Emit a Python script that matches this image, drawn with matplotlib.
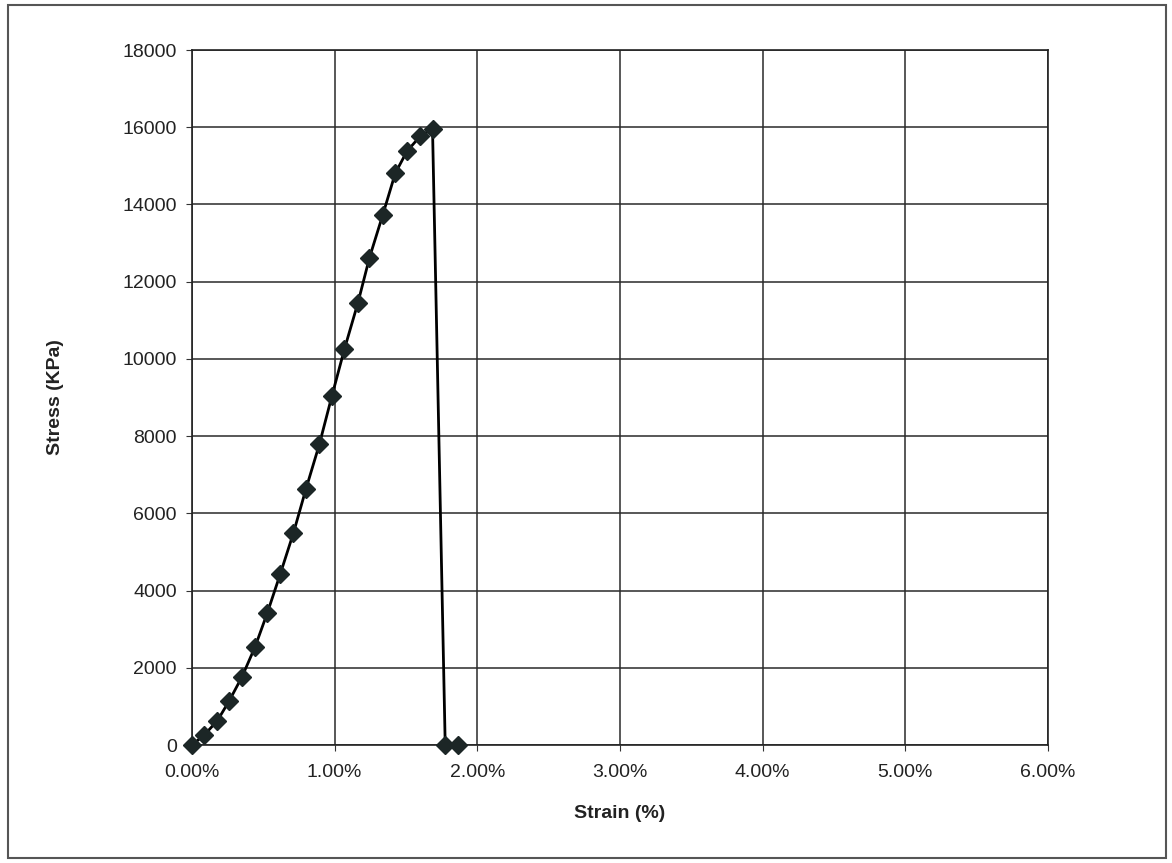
import matplotlib.pyplot as plt
from matplotlib.patches import Rectangle
from matplotlib.ticker import FuncFormatter

# strain in %, stress in kPa
strain = [0.000, 0.086, 0.178, 0.262, 0.351, 0.442, 0.528, 0.618, 0.711, 0.798,
          0.893, 0.980, 1.069, 1.163, 1.244, 1.338, 1.425, 1.507, 1.600, 1.686,
          1.775, 1.865]
stress = [0, 260, 630, 1150, 1770, 2540, 3420, 4420, 5490, 6620,
          7790, 9030, 10260, 11450, 12620, 13740, 14810, 15380, 15770, 15960,
          0, 0]

x_ticks = [0, 1, 2, 3, 4, 5, 6]
y_ticks = list(range(0, 18001, 2000))

plt.rcParams['font.family'] = ['Liberation Sans', 'DejaVu Sans']

fig = plt.figure(figsize=(11.72, 8.63), dpi=100)
ax = fig.add_axes([0.1638, 0.1367, 0.7304, 0.8053])

ax.plot(strain, stress, color='black', linewidth=2,
        marker='D', markersize=9, markerfacecolor='#1c2626',
        markeredgecolor='#1c2626', zorder=3, clip_on=False)

ax.set_xlim(0, 6)
ax.set_ylim(0, 18000)
ax.set_xticks(x_ticks)
ax.set_yticks(y_ticks)
ax.xaxis.set_major_formatter(FuncFormatter(lambda v, p: f"{v:.2f}%"))
ax.grid(True, color='#2a2a2a', linewidth=1.1)
ax.tick_params(axis='both', labelsize=14, length=4, color='#333333',
               labelcolor='#222222')
ax.tick_params(axis='x', pad=10)
ax.tick_params(axis='y', pad=7)
for s in ax.spines.values():
    s.set_color('#222222')
    s.set_linewidth(1.2)

ax.set_xlabel('Strain (%)', fontsize=14, fontweight='bold', color='#222222')
ax.set_ylabel('Stress (KPa)', fontsize=14, fontweight='bold', color='#222222')
ax.xaxis.set_label_coords(0.5, -0.086)
ax.yaxis.set_label_coords(-0.149, 0.5)

# scanned page frame
fig.patches.append(Rectangle((0.007, 0.006), 0.988, 0.988, transform=fig.transFigure,
                             fill=False, edgecolor='#555555', linewidth=1.5))

fig.savefig('out.png', dpi=100)
